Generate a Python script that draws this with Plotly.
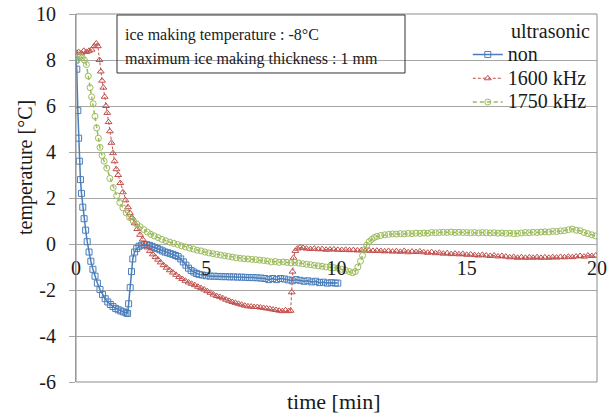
import plotly.graph_objects as go

# --- measured temperature curves (time in min, temperature in degC) ---
non_time = [0, 0.03, 0.07, 0.1, 0.13, 0.17, 0.21, 0.26, 0.31, 0.37, 0.43, 0.5, 0.57, 0.65, 0.73,
            0.82, 0.92, 1.02, 1.12, 1.22, 1.32, 1.42, 1.52, 1.62, 1.72, 1.82, 1.92, 1.98, 2.02,
            2.08, 2.13, 2.18, 2.25, 2.33, 2.42, 2.52, 2.62, 2.72, 2.82, 2.92, 3.02, 3.12, 3.22,
            3.32, 3.42, 3.52, 3.62, 3.72, 3.82, 3.92, 4.02, 4.12, 4.22, 4.32, 4.42, 4.52, 4.62,
            4.72, 4.85, 5.0, 5.15, 5.3, 5.45, 5.6, 5.75, 5.9, 6.05, 6.2, 6.35, 6.5, 6.65, 6.8,
            6.95, 7.1, 7.25, 7.4, 7.55, 7.7, 7.85, 8.0, 8.15, 8.3, 8.45, 8.6, 8.75, 8.9, 9.05,
            9.2, 9.35, 9.5, 9.65, 9.8, 9.95, 10.05]
non_temp = [8.0, 7.6, 5.8, 4.6, 3.6, 2.8, 2.2, 1.6, 1.1, 0.6, 0.1, -0.35, -0.75, -1.1, -1.4,
            -1.7, -1.98, -2.2, -2.38, -2.52, -2.63, -2.72, -2.8, -2.86, -2.91, -2.95, -2.99, -3.02, -2.6,
            -1.9, -1.2, -0.65, -0.35, -0.2, -0.1, -0.05, -0.02, -0.03, -0.06, -0.1, -0.15, -0.2, -0.25,
            -0.3, -0.35, -0.38, -0.42, -0.45, -0.5, -0.55, -0.65, -0.78, -0.92, -1.05, -1.15, -1.22, -1.28,
            -1.32, -1.35, -1.38, -1.4, -1.4, -1.41, -1.42, -1.42, -1.43, -1.43, -1.44, -1.44, -1.45, -1.46, -1.46,
            -1.47, -1.48, -1.5, -1.55, -1.5, -1.55, -1.5, -1.52, -1.56, -1.6, -1.55, -1.58, -1.62, -1.6, -1.65,
            -1.62, -1.68, -1.66, -1.7, -1.68, -1.7, -1.7]

k1600_time = [0, 0.1, 0.2, 0.3, 0.4, 0.5, 0.6, 0.7, 0.78, 0.84, 0.9, 0.95, 1.0, 1.05, 1.1,
              1.15, 1.2, 1.25, 1.3, 1.36, 1.42, 1.48, 1.55, 1.62, 1.7, 1.8, 1.9, 2.0, 2.07,
              2.15, 2.25, 2.35, 2.46, 2.56, 2.66, 2.75, 2.84, 2.95, 3.05, 3.15, 3.25, 3.36, 3.48,
              3.6, 3.72, 3.84, 3.96, 4.08, 4.2, 4.32, 4.44, 4.56, 4.68, 4.8, 4.92, 5.04, 5.16,
              5.28, 5.4, 5.52, 5.64, 5.76, 5.88, 6.0, 6.12, 6.24, 6.36, 6.48, 6.6, 6.72, 6.84,
              6.96, 7.08, 7.2, 7.32, 7.44, 7.56, 7.68, 7.8, 7.92, 8.04, 8.16, 8.24, 8.28, 8.31,
              8.35, 8.42, 8.5, 8.6, 8.72, 8.85, 9.0, 9.15, 9.3, 9.45, 9.6, 9.75, 9.9, 10.05,
              10.2, 10.35, 10.5, 10.65, 10.8, 10.95, 11.1, 11.25, 11.4, 11.55, 11.7, 11.85, 12.0, 12.15,
              12.3, 12.45, 12.6, 12.75, 12.9, 13.05, 13.2, 13.35, 13.5, 13.65, 13.8, 13.95, 14.1, 14.25,
              14.4, 14.55, 14.7, 14.85, 15.0, 15.15, 15.3, 15.45, 15.6, 15.75, 15.9, 16.05, 16.2, 16.35,
              16.5, 16.65, 16.8, 16.95, 17.1, 17.25, 17.4, 17.55, 17.7, 17.85, 18.0, 18.15, 18.3, 18.45,
              18.6, 18.75, 18.9, 19.05, 19.2, 19.35, 19.5, 19.65, 19.8, 19.95]
k1600_temp = [8.3, 8.35, 8.3, 8.4, 8.35, 8.4, 8.45, 8.6, 8.72, 8.6, 8.0, 7.5, 7.1, 6.8, 6.4,
              6.0, 5.7, 5.3, 4.9, 4.4, 3.95, 3.6, 3.25, 3.0, 2.65, 2.25, 1.9, 1.6, 1.35,
              1.15, 0.9, 0.65, 0.4, 0.2, 0.0, -0.15, -0.3, -0.45, -0.57, -0.68, -0.8, -0.92, -1.03,
              -1.14, -1.24, -1.34, -1.44, -1.52, -1.6, -1.67, -1.73, -1.79, -1.86, -1.92, -1.98, -2.05, -2.12,
              -2.2, -2.26, -2.3, -2.36, -2.42, -2.47, -2.52, -2.56, -2.6, -2.64, -2.68, -2.71, -2.72, -2.74,
              -2.74, -2.76, -2.78, -2.8, -2.82, -2.85, -2.87, -2.9, -2.92, -2.88, -2.92, -2.9, -2.1, -1.2,
              -0.6, -0.3, -0.2, -0.15, -0.17, -0.2, -0.22, -0.2, -0.23, -0.22, -0.25, -0.24, -0.23, -0.25,
              -0.26, -0.25, -0.27, -0.26, -0.28, -0.27, -0.3, -0.28, -0.3, -0.29, -0.3, -0.32, -0.3, -0.33,
              -0.31, -0.34, -0.3, -0.36, -0.33, -0.35, -0.32, -0.36, -0.38, -0.35, -0.4, -0.38, -0.42, -0.4,
              -0.44, -0.42, -0.45, -0.43, -0.47, -0.45, -0.48, -0.5, -0.47, -0.5, -0.52, -0.5, -0.54, -0.52,
              -0.55, -0.58, -0.56, -0.6, -0.57, -0.6, -0.58, -0.6, -0.57, -0.6, -0.58, -0.6, -0.57, -0.59,
              -0.56, -0.58, -0.55, -0.57, -0.54, -0.52, -0.55, -0.5, -0.52, -0.5]

k1750_time = [0, 0.08, 0.16, 0.24, 0.32, 0.4, 0.47, 0.54, 0.6, 0.66, 0.73, 0.79, 0.86, 0.92, 1.0,
              1.08, 1.18, 1.3, 1.43, 1.56, 1.68, 1.8, 1.93, 2.06, 2.2, 2.33, 2.46, 2.6, 2.74,
              2.87, 3.0, 3.15, 3.3, 3.45, 3.6, 3.75, 3.9, 4.05, 4.2, 4.35, 4.5, 4.65, 4.8,
              4.95, 5.1, 5.25, 5.4, 5.55, 5.7, 5.85, 6.0, 6.15, 6.3, 6.45, 6.6, 6.75, 6.9,
              7.05, 7.2, 7.35, 7.5, 7.65, 7.8, 7.95, 8.1, 8.25, 8.4, 8.55, 8.7, 8.85, 9.0,
              9.15, 9.3, 9.45, 9.6, 9.75, 9.9, 10.05, 10.2, 10.35, 10.5, 10.62, 10.72, 10.82, 10.92,
              11.0, 11.08, 11.16, 11.25, 11.35, 11.45, 11.55, 11.7, 11.85, 12.0, 12.15, 12.3, 12.45, 12.6,
              12.75, 12.9, 13.05, 13.2, 13.35, 13.5, 13.65, 13.8, 13.95, 14.1, 14.25, 14.4, 14.55, 14.7,
              14.85, 15.0, 15.15, 15.3, 15.45, 15.6, 15.75, 15.9, 16.05, 16.2, 16.35, 16.5, 16.65, 16.8,
              16.95, 17.1, 17.25, 17.4, 17.55, 17.7, 17.85, 18.0, 18.15, 18.3, 18.45, 18.6, 18.75, 18.9,
              19.05, 19.2, 19.35, 19.5, 19.65, 19.8, 19.95]
k1750_temp = [8.0, 8.15, 8.15, 8.1, 8.0, 7.8, 7.3, 6.8, 6.4, 6.1, 5.55, 5.05, 4.6, 4.2, 3.85,
              3.6, 3.3, 2.85, 2.45, 2.1, 1.8, 1.57, 1.35, 1.15, 1.0, 0.87, 0.75, 0.63, 0.52,
              0.42, 0.35, 0.28, 0.2, 0.14, 0.08, 0.03, -0.02, -0.08, -0.13, -0.18, -0.22, -0.27, -0.3,
              -0.35, -0.39, -0.42, -0.45, -0.48, -0.51, -0.54, -0.57, -0.6, -0.62, -0.64, -0.65, -0.67, -0.68,
              -0.7, -0.72, -0.74, -0.78, -0.76, -0.8, -0.78, -0.8, -0.82, -0.8, -0.83, -0.86, -0.88, -0.9,
              -0.93, -0.95, -0.97, -1.0, -1.02, -1.03, -1.05, -1.1, -1.15, -1.2, -1.25, -1.2, -1.0, -0.75,
              -0.5, -0.25, -0.05, 0.1, 0.2, 0.28, 0.33, 0.37, 0.4, 0.42, 0.44, 0.43, 0.45, 0.44,
              0.46, 0.45, 0.47, 0.46, 0.48, 0.47, 0.5, 0.49, 0.5, 0.51, 0.5, 0.52, 0.5, 0.51,
              0.5, 0.5, 0.49, 0.5, 0.48, 0.5, 0.49, 0.48, 0.49, 0.47, 0.48, 0.46, 0.47, 0.45,
              0.46, 0.48, 0.5, 0.49, 0.51, 0.5, 0.52, 0.53, 0.52, 0.55, 0.54, 0.57, 0.58, 0.62,
              0.65, 0.6, 0.58, 0.5, 0.45, 0.4, 0.35]

y_ticks = [-6, -4, -2, 0, 2, 4, 6, 8, 10]
x_ticks = [0, 5, 10, 15, 20]
info_lines = ["ice making temperature : -8°C", "maximum ice making thickness : 1 mm"]

SERIF = "'Liberation Serif', 'Times New Roman', serif"
INK = "#1a1a1a"
BLUE, RED, GREEN = "#4a7ebb", "#c0504d", "#9bbb59"
GRID = "#a6a6a6"


def legend_label(text):
    # larger glyphs than the legend's row font, so rows stay compact
    return f'<span style="font-size:20px">{text}</span>'


fig = go.Figure()
fig.add_trace(go.Scatter(
    x=non_time, y=non_temp, name=legend_label("non"), mode="lines+markers",
    line=dict(color=BLUE, width=1.5),
    marker=dict(symbol="square-open", size=6, color=BLUE, line=dict(width=1))))
fig.add_trace(go.Scatter(
    x=k1600_time, y=k1600_temp, name=legend_label("1600 kHz"), mode="lines+markers",
    line=dict(color=RED, width=1, dash="3px,2px"),
    marker=dict(symbol="triangle-up-open", size=6, color=RED, line=dict(width=1))))
fig.add_trace(go.Scatter(
    x=k1750_time, y=k1750_temp, name=legend_label("1750 kHz"), mode="lines+markers",
    line=dict(color=GREEN, width=1.5, dash="4px,3px"),
    marker=dict(symbol="circle-open", size=6, color=GREEN, line=dict(width=1))))

y_min, y_max = y_ticks[0], y_ticks[-1]
zero_pos = (0 - y_min) / (y_max - y_min)

fig.update_layout(
    width=616, height=418,
    margin=dict(l=76, r=19, t=14, b=36, autoexpand=False),
    paper_bgcolor="white", plot_bgcolor="white",
    font=dict(family=SERIF, color=INK),
    showlegend=True,
    legend=dict(x=0.752, y=0.936, xanchor="left", yanchor="top",
                bgcolor="rgba(0,0,0,0)", borderwidth=0,
                font=dict(family=SERIF, size=16, color=INK)),
    xaxis=dict(range=[x_ticks[0], x_ticks[-1]], tickvals=x_ticks,
               ticktext=[str(v) for v in x_ticks],
               anchor="free", position=zero_pos, automargin=False,
               showgrid=False, zeroline=False, showline=False, ticks="",
               ticklabelstandoff=10,
               tickfont=dict(family=SERIF, size=20, color=INK)),
    yaxis=dict(range=[y_min, y_max], tickvals=y_ticks,
               ticktext=[str(v) for v in y_ticks], automargin=False,
               showgrid=True, gridcolor=GRID, gridwidth=1, zeroline=False,
               showline=True, linecolor=GRID, linewidth=1,
               ticks="outside", ticklen=6, tickcolor=GRID,
               ticklabelstandoff=9,
               tickfont=dict(family=SERIF, size=20, color=INK)),
)

# plot-area frame
fig.add_shape(type="rect", xref="x domain", yref="y domain", x0=0, x1=1, y0=0, y1=1,
              line=dict(color="#8c8c8c", width=1), layer="above")

# condition box
fig.add_shape(type="rect", xref="x domain", yref="y domain",
              x0=0.0787, x1=0.6315, y0=0.8397, y1=0.9973,
              line=dict(color="#333333", width=1), layer="above")
for text, yv in zip(info_lines, [0.943, 0.878]):
    fig.add_annotation(text=text, xref="x domain", yref="y domain", x=0.0902, y=yv,
                       xanchor="left", yanchor="middle", showarrow=False,
                       font=dict(family=SERIF, size=16, color=INK))

# legend heading
fig.add_annotation(text="ultrasonic", xref="x domain", yref="y domain", x=0.831, y=0.954,
                   xanchor="left", yanchor="middle", showarrow=False,
                   font=dict(family=SERIF, size=20, color=INK))

# axis titles
fig.add_annotation(text="time [min]", xref="x domain", yref="y domain", x=0.4933, y=-0.054,
                   xanchor="center", yanchor="middle", showarrow=False,
                   font=dict(family=SERIF, size=22, color=INK))
fig.add_annotation(text="temperature [°C]", xref="paper", yref="y domain", x=-0.098, y=0.584,
                   xanchor="center", yanchor="middle", showarrow=False, textangle=-90,
                   font=dict(family=SERIF, size=20, color=INK))

fig.write_html("out.html")
